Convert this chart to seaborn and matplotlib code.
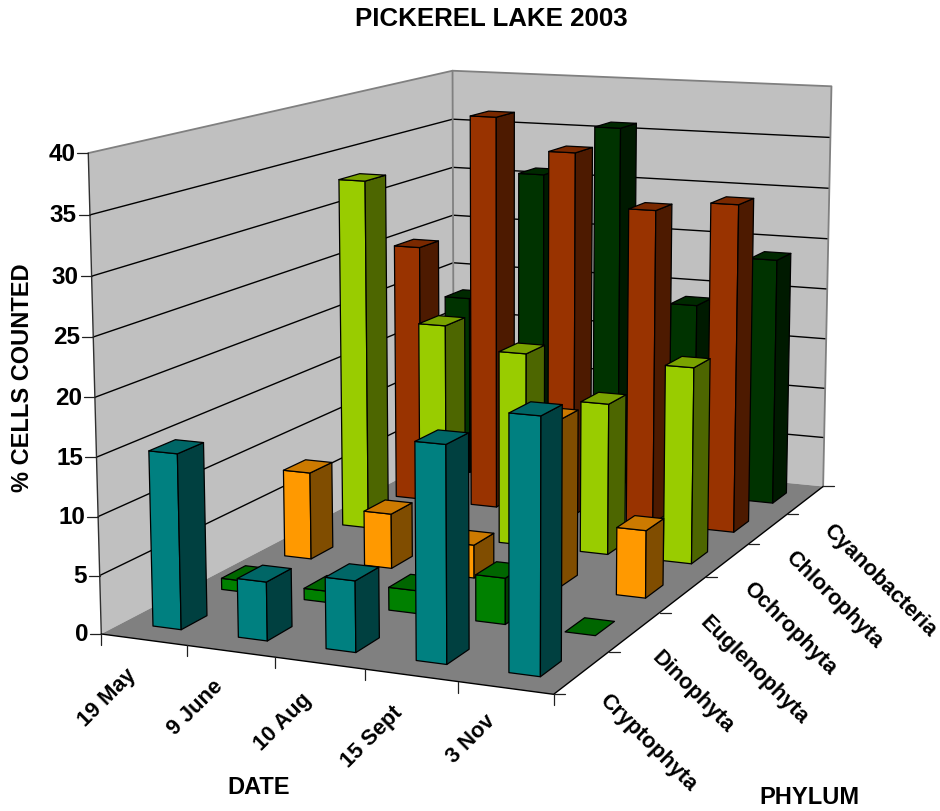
import numpy as np
import pandas as pd
import seaborn as sns
import matplotlib
matplotlib.use("Agg")
import matplotlib.pyplot as plt
from matplotlib.lines import Line2D
from mpl_toolkits.mplot3d.art3d import Poly3DCollection

dates = ["19 May", "9 June", "10 Aug", "15 Sept", "3 Nov"]
phyla = ["Cryptophyta", "Dinophyta", "Euglenophyta", "Ochrophyta", "Chlorophyta", "Cyanobacteria"]

cryptophyta = [15, 5, 6, 18, 21]
dinophyta = [1, 1, 2, 4, 0]
euglenophyta = [8, 5, 3, 15, 6]
ochrophyta = [33, 20, 18, 14, 18]
chlorophyta = [25, 38, 35, 30, 31]
cyanobacteria = [18, 31, 36, 19, 24]

z_ticks = [0, 5, 10, 15, 20, 25, 30, 35, 40]

# (front, side, top) shades for each phylum
face_colors = sns.color_palette(["#008080", "#008000", "#FF9900", "#99CC00", "#993300", "#003300"])
side_colors = sns.color_palette(["#004040", "#004000", "#804D00", "#4D6600", "#4D1A00", "#001A00"])
top_colors = sns.color_palette(["#006666", "#006600", "#CC7A00", "#7AA300", "#7A2900", "#002900"])

table = pd.DataFrame(
    [cryptophyta, dinophyta, euglenophyta, ochrophyta, chlorophyta, cyanobacteria],
    index=phyla, columns=dates,
)

W, H = 940, 812
sns.set_theme(style="white", font="Liberation Sans")
plt.rcParams["font.weight"] = "bold"

fig = plt.figure(figsize=(W / 100, H / 100), dpi=100, facecolor="white")
ax = fig.add_axes([0, 0, 1, 1], projection="3d")
ax.apply_aspect = lambda position=None: None
ax.set_axis_off()
ax.computed_zorder = False

# Camera: a 3x4 projective matrix solved from the box edges of the plot
# (date index, phylum index, percent) -> (pixel x, pixel y).
calib = [
    (0, 0, 40, 88, 154), (0, 6, 40, 453.3, 71), (5, 6, 40, 831.7, 87),
    (0, 0, 35, 90, 216), (0, 0, 30, 91.7, 277), (0, 0, 25, 93.3, 338),
    (0, 0, 15, 96, 459), (0, 0, 10, 98.3, 518), (0, 0, 5, 100, 577),
    (0, 0, 0, 102, 635), (5, 0, 0, 552.7, 694), (5, 6, 0, 823, 488.3),
    (0, 6, 35, 453, 120), (0, 6, 30, 453, 168.7), (0, 6, 25, 453, 216.7),
    (0, 6, 20, 453, 264), (0, 6, 0, 453, 450),
    (5, 6, 35, 830, 138.7), (5, 6, 30, 829, 189), (5, 6, 25, 828, 240),
    (5, 6, 20, 827, 290), (5, 6, 15, 825.7, 340),
    (1, 0, 0, 186.7, 646), (2, 0, 0, 274, 658), (3, 0, 0, 365, 670), (4, 0, 0, 457, 683),
    (5, 5, 0, 788, 515), (5, 4, 0, 748, 546), (5, 3, 0, 707, 578), (5, 2, 0, 660, 614), (5, 1, 0, 610, 652),
]
rows = []
for x, y, z, u, v in calib:
    X = [x / 5, y / 6, z / 40, 1]
    u, v = u / 1000, v / 1000
    rows.append(X + [0, 0, 0, 0] + [-u * c for c in X])
    rows.append([0, 0, 0, 0] + X + [-v * c for c in X])
p = np.linalg.svd(np.array(rows))[2][-1].reshape(3, 4)
P = np.diag([1000, 1000, 1]) @ p @ np.diag([1 / 5, 1 / 6, 1 / 40, 1])
if P[2, 3] < 0:
    P = -P


def to_pixels(x, y, z):
    u, v, w = P @ np.array([x, y, z, 1.0])
    return u / w, v / w


flip = np.array([[1, 0, 0], [0, -1, H], [0, 0, 1.0]])
Q = ax.transData.inverted().get_matrix() @ flip @ P
M = np.vstack([Q[0], Q[1], [0, 0, 0, -1.0], Q[2]])
ax.get_proj = lambda: M
ax.set_xlim(0, 5)
ax.set_ylim(0, 6)
ax.set_zlim(0, 40)


def add_face(verts, color, zorder, edge="none", lw=0.0):
    poly = Poly3DCollection([verts], facecolors=[color], edgecolors=edge, linewidths=lw, zorder=zorder)
    ax.add_collection3d(poly)


# Walls and floor
nx, ny, zmax = len(dates), len(phyla), z_ticks[-1]
add_face([(0, 0, 0), (0, ny, 0), (0, ny, zmax), (0, 0, zmax)], "#C0C0C0", 1)
add_face([(0, ny, 0), (nx, ny, 0), (nx, ny, zmax), (0, ny, zmax)], "#C0C0C0", 1)
add_face([(0, 0, 0), (nx, 0, 0), (nx, ny, 0), (0, ny, 0)], "#808080", 2)

# Gridlines on both walls, then the wall outlines
for z in z_ticks[1:-1]:
    ax.plot([0, 0, nx], [0, ny, ny], [z, z, z], color="black", lw=1.0, zorder=3)
ax.plot([0, 0, nx, nx], [0, ny, ny, ny], [zmax, zmax, zmax, 0], color="#808080", lw=1.3, zorder=3)
ax.plot([0, 0], [ny, ny], [0, zmax], color="#808080", lw=1.3, zorder=3)
ax.plot([0, 0], [0, 0], [0, zmax], color="#303030", lw=1.0, zorder=3)
ax.plot([0, nx, nx], [0, 0, ny], [0, 0, 0], color="black", lw=1.0, zorder=3)

# Bars, drawn from the back row forward and left to right
bar_w, bar_d = 1 / 3, 0.37
pad_w, pad_d = (1 - bar_w) / 2, (1 - bar_d) / 2
order = 10
for iy in reversed(range(ny)):
    for ix in range(nx):
        v = table.iloc[iy, ix]
        x0, x1 = ix + pad_w, ix + pad_w + bar_w
        y0, y1 = iy + pad_d, iy + pad_d + bar_d
        order += 1
        if v > 0:
            add_face([(x0, y0, 0), (x1, y0, 0), (x1, y0, v), (x0, y0, v)], face_colors[iy], order, "black", 0.9)
            add_face([(x1, y0, 0), (x1, y1, 0), (x1, y1, v), (x1, y0, v)], side_colors[iy], order, "black", 0.9)
        add_face([(x0, y0, v), (x1, y0, v), (x1, y1, v), (x0, y1, v)], top_colors[iy], order, "black", 0.9)


# Tick marks are fixed-length screen strokes
def stroke(x0, y0, x1, y1):
    fig.add_artist(Line2D([x0 / W, x1 / W], [1 - y0 / H, 1 - y1 / H], color="#202020", lw=0.9,
                          transform=fig.transFigure))


for z in z_ticks:
    u, v = to_pixels(0, 0, z)
    stroke(u - 11, v, u, v)
for i in range(nx + 1):
    u, v = to_pixels(i, 0, 0)
    stroke(u, v, u, v + 11)
for j in range(ny + 1):
    u, v = to_pixels(nx, j, 0)
    stroke(u, v, u + 11, v)


def label(x, y, text, size=17.5, rotation=0, ha="center", va="center"):
    fig.text(x / W, 1 - y / H, text, fontsize=size, fontweight="bold", rotation=rotation,
             ha=ha, va=va, rotation_mode="anchor", color="black", family="Liberation Sans")


label(491, 19, "PICKEREL LAKE 2003", size=18.6)
label(23, 378, "% CELLS COUNTED", size=17, rotation=90)
label(259, 788, "DATE", size=17)
label(809, 798, "PHYLUM", size=17)

for z in z_ticks:
    u, v = to_pixels(0, 0, z)
    label(u - 13, v, str(z), ha="right")

date_centres = [(107, 698), (195, 708), (283, 722), (372, 737), (471, 739)]
for (x, y), text in zip(date_centres, dates):
    label(x, y, text, size=15.7, rotation=45)

phylum_centres = [(648, 743), (693, 692), (754, 670), (790, 629), (834, 600), (879.5, 580.5)]
for (x, y), text in zip(phylum_centres, phyla):
    label(x, y, text, size=15.7, rotation=-45)

fig.savefig("out.png", dpi=100, facecolor="white")
